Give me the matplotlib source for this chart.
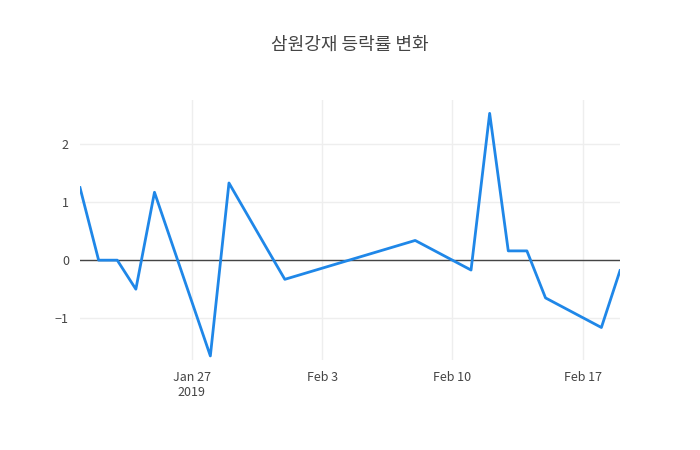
import numpy as np
import pandas as pd
import matplotlib.pyplot as plt
import matplotlib.dates as mdates

plt.rcParams['font.family'] = ['Noto Sans CJK KR', 'DejaVu Sans']

dates = pd.to_datetime([
    "2019-01-21", "2019-01-22", "2019-01-23", "2019-01-24", "2019-01-25",
    "2019-01-28", "2019-01-29", "2019-01-31", "2019-02-01", "2019-02-08",
    "2019-02-11", "2019-02-12", "2019-02-13", "2019-02-14", "2019-02-15",
    "2019-02-18", "2019-02-19",
])
rates = [1.25, 0.0, 0.0, -0.5, 1.17, -1.65, 1.33, 0.22, -0.33, 0.34,
         -0.17, 2.53, 0.16, 0.16, -0.65, -1.16, -0.18]

fig = plt.figure(figsize=(7, 4.5), dpi=100)
ax = fig.add_axes([80 / 700, 1 - 360 / 450, 540 / 700, 260 / 450])

ax.plot(dates, rates, color='#1f87e8', linewidth=2)
ax.axhline(0, color='#444444', linewidth=1, zorder=1)

ax.set_xlim(dates[0], dates[-1])
ax.set_ylim(-1.72, 2.76)
ax.set_yticks([-1, 0, 1, 2])
ax.set_yticklabels(['\u22121', '0', '1', '2'])

ticks = pd.to_datetime(["2019-01-27", "2019-02-03", "2019-02-10", "2019-02-17"])
ax.set_xticks(ticks)
ax.set_xticklabels(["Jan 27\n2019", "Feb 3", "Feb 10", "Feb 17"])

ax.grid(True, color='#eeeeee', linewidth=1)
ax.set_axisbelow(True)
for s in ax.spines.values():
    s.set_visible(False)
ax.tick_params(length=0, colors='#444444', labelsize=9, pad=8)

fig.text(0.5, 1 - 45 / 450, "삼원강재 등락률 변화", ha='center', va='center',
         fontsize=13, color='#444444')

fig.savefig("out.png")
